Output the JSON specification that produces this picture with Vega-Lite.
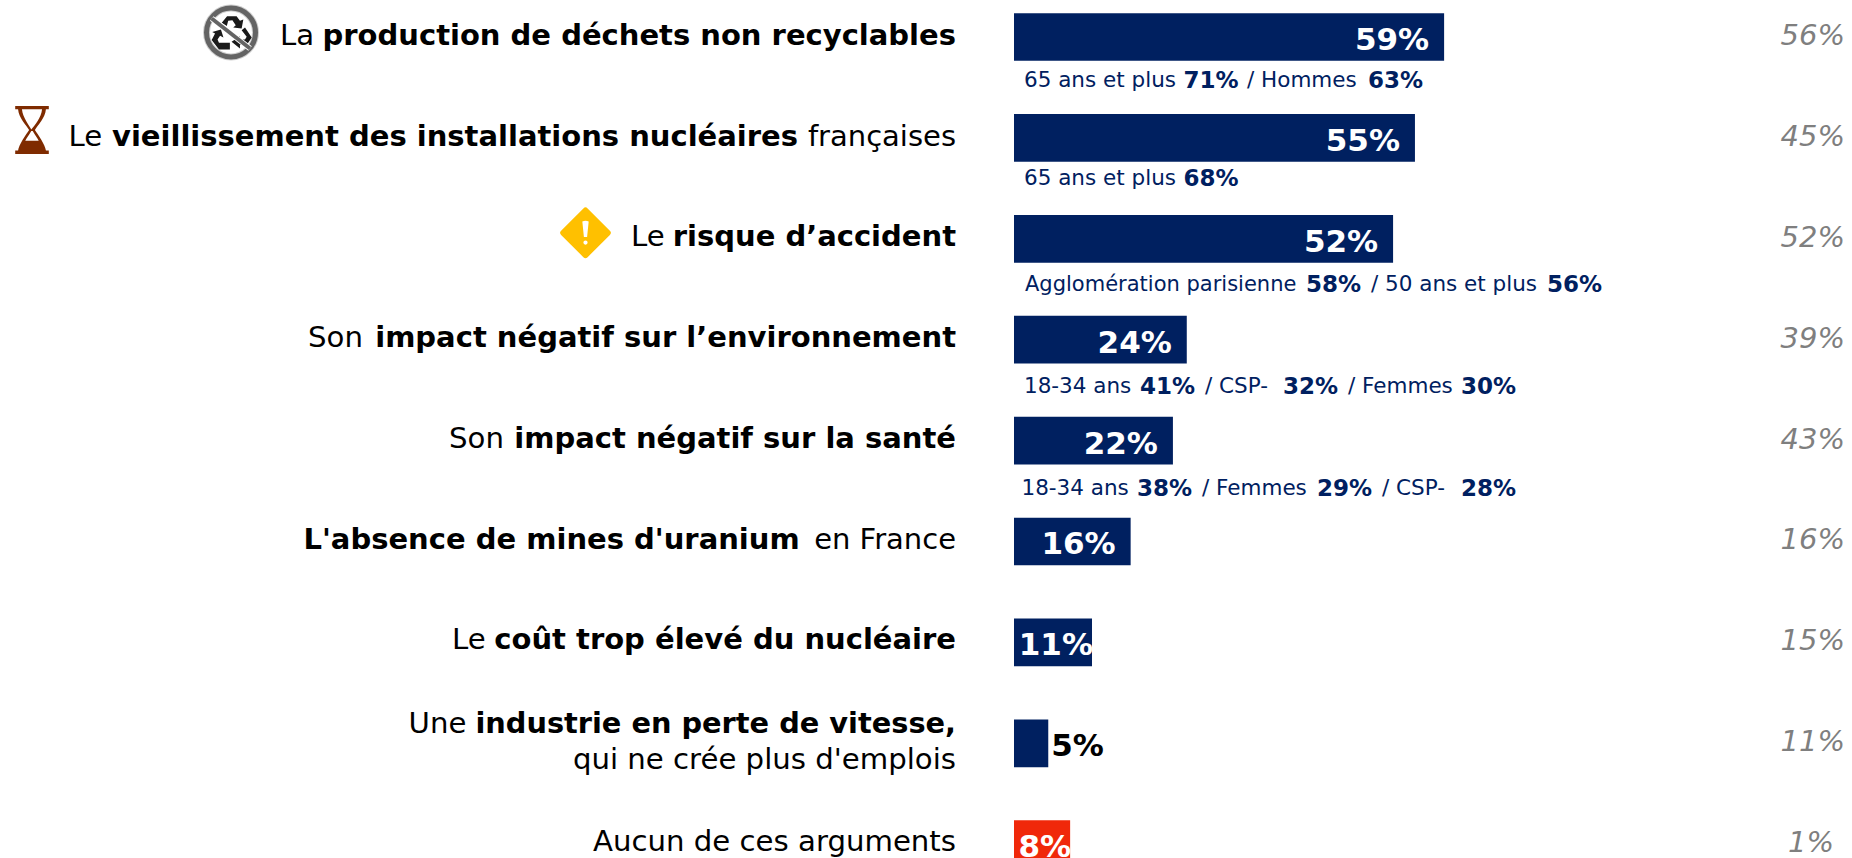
{
"$schema":"https://vega.github.io/schema/vega-lite/v6.json",
"width":1852,"height":858,"padding":0,
"autosize":{"type":"none"},
"background":"white",
"config":{"view":{"stroke":null},"text":{"font":"DejaVu Sans","baseline":"middle"}},
"datasets":{
"rows":[
{"row":0,"value":59,"shown":"59%","prev":"56%","group":"arg","pre":"La","bold":"production de déchets non recyclables","post":""},
{"row":1,"value":55,"shown":"55%","prev":"45%","group":"arg","pre":"Le","bold":"vieillissement des installations nucléaires","post":"françaises"},
{"row":2,"value":52,"shown":"52%","prev":"52%","group":"arg","pre":"Le","bold":"risque d’accident","post":""},
{"row":3,"value":23.7,"shown":"24%","prev":"39%","group":"arg","pre":"Son","bold":"impact négatif sur l’environnement","post":""},
{"row":4,"value":21.8,"shown":"22%","prev":"43%","group":"arg","pre":"Son","bold":"impact négatif sur la santé","post":""},
{"row":5,"value":16,"shown":"16%","prev":"16%","group":"arg","pre":"","bold":"L'absence de mines d'uranium","post":"en France"},
{"row":6,"value":10.7,"shown":"11%","prev":"15%","group":"arg","pre":"Le","bold":"coût trop élevé du nucléaire","post":""},
{"row":7,"value":4.7,"shown":"5%","prev":"11%","group":"arg","pre":"Une","bold":"industrie en perte de vitesse,","post":"qui ne crée plus d'emplois"},
{"row":8,"value":7.7,"shown":"8%","prev":"1%","group":"none","pre":"","bold":"","post":"Aucun de ces arguments"}
],
"notes":[
{"id":"a0","row":0,"t":"65 ans et plus"},{"id":"a1","row":0,"t":"71%"},{"id":"a2","row":0,"t":"/ Hommes"},{"id":"a3","row":0,"t":"63%"},
{"id":"b0","row":1,"t":"65 ans et plus"},{"id":"b1","row":1,"t":"68%"},
{"id":"c0","row":2,"t":"Agglomération parisienne"},{"id":"c1","row":2,"t":"58%"},{"id":"c2","row":2,"t":"/ 50 ans et plus"},{"id":"c3","row":2,"t":"56%"},
{"id":"d0","row":3,"t":"18-34 ans"},{"id":"d1","row":3,"t":"41%"},{"id":"d2","row":3,"t":"/ CSP-"},{"id":"d3","row":3,"t":"32%"},{"id":"d4","row":3,"t":"/ Femmes"},{"id":"d5","row":3,"t":"30%"},
{"id":"e0","row":4,"t":"18-34 ans"},{"id":"e1","row":4,"t":"38%"},{"id":"e2","row":4,"t":"/ Femmes"},{"id":"e3","row":4,"t":"29%"},{"id":"e4","row":4,"t":"/ CSP-"},{"id":"e5","row":4,"t":"28%"}
],
"icons":[{"row":0},{"row":1},{"row":2}]
},
"data":{"name":"rows"},
"encoding":{
"y":{"field":"row","type":"quantitative","axis":null,"scale":{"domain":[-0.3667,8.1368],"reverse":true,"nice":false,"zero":false,"padding":0}}
},
"layer":[
{"mark":{"type":"bar","orient":"horizontal","size":47.7},
 "encoding":{"x":{"field":"value","type":"quantitative","axis":null,"stack":null,"scale":{"domain":[-139.095,114.952],"nice":false,"zero":false}},
 "color":{"field":"group","type":"nominal","legend":null,"scale":{"domain":["arg","none"],"range":["#002060","#F0280A"]}}}},
{"transform":[{"filter":"datum.row<6"}],"mark":{"type":"text","align":"right","dx":-15,"dy":4,"fontSize":31,"fontWeight":"bold","fill":"white"},
 "encoding":{"x":{"field":"value","type":"quantitative","axis":null},"text":{"field":"shown"}}},
{"transform":[{"filter":"datum.row==6||datum.row==8"}],"mark":{"type":"text","align":"right","dx":1,"dy":4,"fontSize":31,"fontWeight":"bold","fill":"white"},
 "encoding":{"x":{"field":"value","type":"quantitative","axis":null},"text":{"field":"shown"}}},
{"transform":[{"filter":"datum.row==7"}],"mark":{"type":"text","align":"left","dx":3,"dy":4,"fontSize":31,"fontWeight":"bold","fill":"black"},
 "encoding":{"x":{"field":"value","type":"quantitative","axis":null},"text":{"field":"shown"}}},
{"transform":[{"filter":"datum.row<8"}],"mark":{"type":"text","align":"right","dx":831,"dy":-1,"fontSize":29,"fontStyle":"italic","fill":"#7f7f7f"},"encoding":{"x":{"datum":0,"type":"quantitative","axis":null},"text":{"field":"prev"}}},
{"transform":[{"filter":"datum.row==8"}],"mark":{"type":"text","align":"right","dx":820,"dy":-1,"fontSize":29,"fontStyle":"italic","fill":"#7f7f7f"},"encoding":{"x":{"datum":0,"type":"quantitative","axis":null},"text":{"field":"prev"}}},

{"transform":[{"filter":"datum.row==0"}],"mark":{"type":"text","align":"left","dx":-734,"dy":-1,"fontSize":29.2,"fill":"black"},"encoding":{"x":{"datum":0,"type":"quantitative","axis":null},"text":{"field":"pre"}}},
{"transform":[{"filter":"datum.row==1"}],"mark":{"type":"text","align":"left","dx":-945.5,"dy":-1,"fontSize":29.2,"fill":"black"},"encoding":{"x":{"datum":0,"type":"quantitative","axis":null},"text":{"field":"pre"}}},
{"transform":[{"filter":"datum.row==2"}],"mark":{"type":"text","align":"left","dx":-383,"dy":-2,"fontSize":29.2,"fill":"black"},"encoding":{"x":{"datum":0,"type":"quantitative","axis":null},"text":{"field":"pre"}}},
{"transform":[{"filter":"datum.row==3"}],"mark":{"type":"text","align":"left","dx":-706,"dy":-2,"fontSize":29.2,"fill":"black"},"encoding":{"x":{"datum":0,"type":"quantitative","axis":null},"text":{"field":"pre"}}},
{"transform":[{"filter":"datum.row==4"}],"mark":{"type":"text","align":"left","dx":-565,"dy":-2,"fontSize":29.2,"fill":"black"},"encoding":{"x":{"datum":0,"type":"quantitative","axis":null},"text":{"field":"pre"}}},
{"transform":[{"filter":"datum.row==6"}],"mark":{"type":"text","align":"left","dx":-562,"dy":-2,"fontSize":29.2,"fill":"black"},"encoding":{"x":{"datum":0,"type":"quantitative","axis":null},"text":{"field":"pre"}}},
{"transform":[{"filter":"datum.row==7"}],"mark":{"type":"text","align":"left","dx":-605.4,"dy":-19,"fontSize":29.2,"fill":"black"},"encoding":{"x":{"datum":0,"type":"quantitative","axis":null},"text":{"field":"pre"}}},

{"transform":[{"filter":"datum.row==0"}],"mark":{"type":"text","align":"right","dx":-58,"dy":-1,"fontSize":29,"fontWeight":"bold","fill":"black"},"encoding":{"x":{"datum":0,"type":"quantitative","axis":null},"text":{"field":"bold"}}},
{"transform":[{"filter":"datum.row==2||datum.row==3||datum.row==4"}],"mark":{"type":"text","align":"right","dx":-58,"dy":-2,"fontSize":29,"fontWeight":"bold","fill":"black"},"encoding":{"x":{"datum":0,"type":"quantitative","axis":null},"text":{"field":"bold"}}},
{"transform":[{"filter":"datum.row==6"}],"mark":{"type":"text","align":"right","dx":-58,"dy":-2,"fontSize":29,"fontWeight":"bold","fill":"black"},"encoding":{"x":{"datum":0,"type":"quantitative","axis":null},"text":{"field":"bold"}}},
{"transform":[{"filter":"datum.row==7"}],"mark":{"type":"text","align":"right","dx":-58,"dy":-19,"fontSize":28.8,"fontWeight":"bold","fill":"black"},"encoding":{"x":{"datum":0,"type":"quantitative","axis":null},"text":{"field":"bold"}}},
{"transform":[{"filter":"datum.row==1"}],"mark":{"type":"text","align":"left","dx":-902,"dy":-1,"fontSize":29,"fontWeight":"bold","fill":"black"},"encoding":{"x":{"datum":0,"type":"quantitative","axis":null},"text":{"field":"bold"}}},
{"transform":[{"filter":"datum.row==5"}],"mark":{"type":"text","align":"left","dx":-710.5,"dy":-1,"fontSize":29,"fontWeight":"bold","fill":"black"},"encoding":{"x":{"datum":0,"type":"quantitative","axis":null},"text":{"field":"bold"}}},

{"transform":[{"filter":"datum.row==1||datum.row==5"}],"mark":{"type":"text","align":"right","dx":-58,"dy":-1,"fontSize":29,"fill":"black"},"encoding":{"x":{"datum":0,"type":"quantitative","axis":null},"text":{"field":"post"}}},
{"transform":[{"filter":"datum.row==7"}],"mark":{"type":"text","align":"right","dx":-58,"dy":17,"fontSize":29.2,"fill":"black"},"encoding":{"x":{"datum":0,"type":"quantitative","axis":null},"text":{"field":"post"}}},
{"transform":[{"filter":"datum.row==8"}],"mark":{"type":"text","align":"right","dx":-58,"dy":-2,"fontSize":29.2,"fill":"black"},"encoding":{"x":{"datum":0,"type":"quantitative","axis":null},"text":{"field":"post"}}},

{"data":{"name":"notes"},"transform":[{"filter":"datum.id=='a0'"}],"mark":{"type":"text","align":"left","dx":10,"dy":44.5,"fontSize":21.5,"fill":"#002060"},"encoding":{"x":{"datum":0,"type":"quantitative","axis":null},"text":{"field":"t"}}},
{"data":{"name":"notes"},"transform":[{"filter":"datum.id=='a1'"}],"mark":{"type":"text","align":"left","dx":169.5,"dy":44.5,"fontSize":23,"fontWeight":"bold","fill":"#002060"},"encoding":{"x":{"datum":0,"type":"quantitative","axis":null},"text":{"field":"t"}}},
{"data":{"name":"notes"},"transform":[{"filter":"datum.id=='a2'"}],"mark":{"type":"text","align":"left","dx":233,"dy":44.5,"fontSize":21.5,"fill":"#002060"},"encoding":{"x":{"datum":0,"type":"quantitative","axis":null},"text":{"field":"t"}}},
{"data":{"name":"notes"},"transform":[{"filter":"datum.id=='a3'"}],"mark":{"type":"text","align":"left","dx":354,"dy":44.5,"fontSize":23,"fontWeight":"bold","fill":"#002060"},"encoding":{"x":{"datum":0,"type":"quantitative","axis":null},"text":{"field":"t"}}},
{"data":{"name":"notes"},"transform":[{"filter":"datum.id=='b0'"}],"mark":{"type":"text","align":"left","dx":10,"dy":41.5,"fontSize":21.5,"fill":"#002060"},"encoding":{"x":{"datum":0,"type":"quantitative","axis":null},"text":{"field":"t"}}},
{"data":{"name":"notes"},"transform":[{"filter":"datum.id=='b1'"}],"mark":{"type":"text","align":"left","dx":169.5,"dy":41.5,"fontSize":23,"fontWeight":"bold","fill":"#002060"},"encoding":{"x":{"datum":0,"type":"quantitative","axis":null},"text":{"field":"t"}}},
{"data":{"name":"notes"},"transform":[{"filter":"datum.id=='c0'"}],"mark":{"type":"text","align":"left","dx":11,"dy":46.5,"fontSize":21,"fill":"#002060"},"encoding":{"x":{"datum":0,"type":"quantitative","axis":null},"text":{"field":"t"}}},
{"data":{"name":"notes"},"transform":[{"filter":"datum.id=='c1'"}],"mark":{"type":"text","align":"left","dx":292,"dy":46.5,"fontSize":23,"fontWeight":"bold","fill":"#002060"},"encoding":{"x":{"datum":0,"type":"quantitative","axis":null},"text":{"field":"t"}}},
{"data":{"name":"notes"},"transform":[{"filter":"datum.id=='c2'"}],"mark":{"type":"text","align":"left","dx":357,"dy":46.5,"fontSize":21.5,"fill":"#002060"},"encoding":{"x":{"datum":0,"type":"quantitative","axis":null},"text":{"field":"t"}}},
{"data":{"name":"notes"},"transform":[{"filter":"datum.id=='c3'"}],"mark":{"type":"text","align":"left","dx":533,"dy":46.5,"fontSize":23,"fontWeight":"bold","fill":"#002060"},"encoding":{"x":{"datum":0,"type":"quantitative","axis":null},"text":{"field":"t"}}},
{"data":{"name":"notes"},"transform":[{"filter":"datum.id=='d0'"}],"mark":{"type":"text","align":"left","dx":10,"dy":47,"fontSize":21.5,"fill":"#002060"},"encoding":{"x":{"datum":0,"type":"quantitative","axis":null},"text":{"field":"t"}}},
{"data":{"name":"notes"},"transform":[{"filter":"datum.id=='d1'"}],"mark":{"type":"text","align":"left","dx":126,"dy":47,"fontSize":23,"fontWeight":"bold","fill":"#002060"},"encoding":{"x":{"datum":0,"type":"quantitative","axis":null},"text":{"field":"t"}}},
{"data":{"name":"notes"},"transform":[{"filter":"datum.id=='d2'"}],"mark":{"type":"text","align":"left","dx":191,"dy":47,"fontSize":21.5,"fill":"#002060"},"encoding":{"x":{"datum":0,"type":"quantitative","axis":null},"text":{"field":"t"}}},
{"data":{"name":"notes"},"transform":[{"filter":"datum.id=='d3'"}],"mark":{"type":"text","align":"left","dx":269,"dy":47,"fontSize":23,"fontWeight":"bold","fill":"#002060"},"encoding":{"x":{"datum":0,"type":"quantitative","axis":null},"text":{"field":"t"}}},
{"data":{"name":"notes"},"transform":[{"filter":"datum.id=='d4'"}],"mark":{"type":"text","align":"left","dx":334,"dy":47,"fontSize":21.5,"fill":"#002060"},"encoding":{"x":{"datum":0,"type":"quantitative","axis":null},"text":{"field":"t"}}},
{"data":{"name":"notes"},"transform":[{"filter":"datum.id=='d5'"}],"mark":{"type":"text","align":"left","dx":447,"dy":47,"fontSize":23,"fontWeight":"bold","fill":"#002060"},"encoding":{"x":{"datum":0,"type":"quantitative","axis":null},"text":{"field":"t"}}},
{"data":{"name":"notes"},"transform":[{"filter":"datum.id=='e0'"}],"mark":{"type":"text","align":"left","dx":7.5,"dy":48,"fontSize":21.5,"fill":"#002060"},"encoding":{"x":{"datum":0,"type":"quantitative","axis":null},"text":{"field":"t"}}},
{"data":{"name":"notes"},"transform":[{"filter":"datum.id=='e1'"}],"mark":{"type":"text","align":"left","dx":123,"dy":48,"fontSize":23,"fontWeight":"bold","fill":"#002060"},"encoding":{"x":{"datum":0,"type":"quantitative","axis":null},"text":{"field":"t"}}},
{"data":{"name":"notes"},"transform":[{"filter":"datum.id=='e2'"}],"mark":{"type":"text","align":"left","dx":188,"dy":48,"fontSize":21.5,"fill":"#002060"},"encoding":{"x":{"datum":0,"type":"quantitative","axis":null},"text":{"field":"t"}}},
{"data":{"name":"notes"},"transform":[{"filter":"datum.id=='e3'"}],"mark":{"type":"text","align":"left","dx":303,"dy":48,"fontSize":23,"fontWeight":"bold","fill":"#002060"},"encoding":{"x":{"datum":0,"type":"quantitative","axis":null},"text":{"field":"t"}}},
{"data":{"name":"notes"},"transform":[{"filter":"datum.id=='e4'"}],"mark":{"type":"text","align":"left","dx":368,"dy":48,"fontSize":21.5,"fill":"#002060"},"encoding":{"x":{"datum":0,"type":"quantitative","axis":null},"text":{"field":"t"}}},
{"data":{"name":"notes"},"transform":[{"filter":"datum.id=='e5'"}],"mark":{"type":"text","align":"left","dx":447,"dy":48,"fontSize":23,"fontWeight":"bold","fill":"#002060"},"encoding":{"x":{"datum":0,"type":"quantitative","axis":null},"text":{"field":"t"}}},

{"data":{"name":"icons"},"transform":[{"filter":"datum.row==0"}],"mark":{"type":"point","shape":"circle","filled":false,"stroke":"#cfcfcf","strokeWidth":7,"opacity":1,"size":2401},"encoding":{"x":{"datum":0,"type":"quantitative","axis":null},"xOffset":{"value":-783},"yOffset":{"value":-4.5}}},
{"data":{"name":"icons"},"transform":[{"filter":"datum.row==0"}],"mark":{"type":"point","shape":"circle","filled":false,"stroke":"#646464","strokeWidth":5,"opacity":1,"size":2401},"encoding":{"x":{"datum":0,"type":"quantitative","axis":null},"xOffset":{"value":-783},"yOffset":{"value":-4.5}}},
{"data":{"name":"icons"},"transform":[{"filter":"datum.row==0"}],"mark":{"type":"point","shape":"M-.33 -.35L-.14 -.58L.2 -.58L.32 -.42L.44 -.46L.38 -.14L.08 -.18L.17 -.26L.05 -.44L-.1 -.42L-.15 -.23ZM.5 -.18L.74 .18L.56 .45L.32 .45L.32 .57L.02 .33L.32 .13L.32 .25L.5 .25L.56 .15L.38 -.08ZM-.67 -.02L-.36 -.11L-.27 .18L-.39 .12L-.48 .25L-.43 .37L-.04 .37L-.04 .61L-.43 .61L-.69 .27L-.57 .04Z","filled":true,"fill":"#1a1a1a","opacity":1,"size":3136},"encoding":{"x":{"datum":0,"type":"quantitative","axis":null},"xOffset":{"value":-783},"yOffset":{"value":-4.5}}},
{"data":{"name":"icons"},"transform":[{"filter":"datum.row==0"}],"mark":{"type":"point","shape":"M-.7515 -.421L.6185 .649L.7415 .491L-.6285 -.579Z","filled":true,"fill":"white","opacity":1,"size":3136},"encoding":{"x":{"datum":0,"type":"quantitative","axis":null},"xOffset":{"value":-783},"yOffset":{"value":-4.5}}},
{"data":{"name":"icons"},"transform":[{"filter":"datum.row==0"}],"mark":{"type":"point","shape":"M-.733 -.445L.637 .625L.723 .515L-.647 -.555Z","filled":true,"fill":"#646464","opacity":1,"size":3136},"encoding":{"x":{"datum":0,"type":"quantitative","axis":null},"xOffset":{"value":-783},"yOffset":{"value":-4.5}}},

{"data":{"name":"icons"},"transform":[{"filter":"datum.row==1"}],"mark":{"type":"point","shape":"M-.7 -1H.7V-.86H.58C.55 -.5 .25 -.2 .12 0C.25 .2 .55 .6 .58 .86H.7V1H-.7V.86H-.58C-.55 .6 -.25 .2 -.12 0C-.25 -.2 -.55 -.5 -.58 -.86H-.7ZM.42 -.86H-.42C-.38 -.5 -.12 -.2 -.03 -.02C.12 -.2 .38 -.5 .42 -.86ZM-.03 .05C-.12 .2 -.22 .35 -.28 .45H.28C.22 .35 .12 .2 .03 .05Z","filled":true,"fill":"#7F2B00","opacity":1,"size":2304},"encoding":{"x":{"datum":0,"type":"quantitative","axis":null},"xOffset":{"value":-982},"yOffset":{"value":-8}}},

{"data":{"name":"icons"},"transform":[{"filter":"datum.row==2"}],"mark":{"type":"point","shape":"M-.92 -.08L-.08 -.92Q0 -1 .08 -.92L.92 -.08Q1 0 .92 .08L.08 .92Q0 1 -.08 .92L-.92 .08Q-1 0 -.92 -.08Z","filled":true,"fill":"#FFC000","opacity":1,"size":2809},"encoding":{"x":{"datum":0,"type":"quantitative","axis":null},"xOffset":{"value":-428.5},"yOffset":{"value":-6}}},
{"data":{"name":"icons"},"transform":[{"filter":"datum.row==2"}],"mark":{"type":"point","shape":"M-.12 -.43Q0 -.48 .12 -.43L.06 .16H-.06ZM-.08 .37Q-.08 .29 0 .29Q.08 .29 .08 .37Q.08 .45 0 .45Q-.08 .45 -.08 .37Z","filled":true,"fill":"white","opacity":1,"size":2809},"encoding":{"x":{"datum":0,"type":"quantitative","axis":null},"xOffset":{"value":-428.5},"yOffset":{"value":-6}}}
]
}
